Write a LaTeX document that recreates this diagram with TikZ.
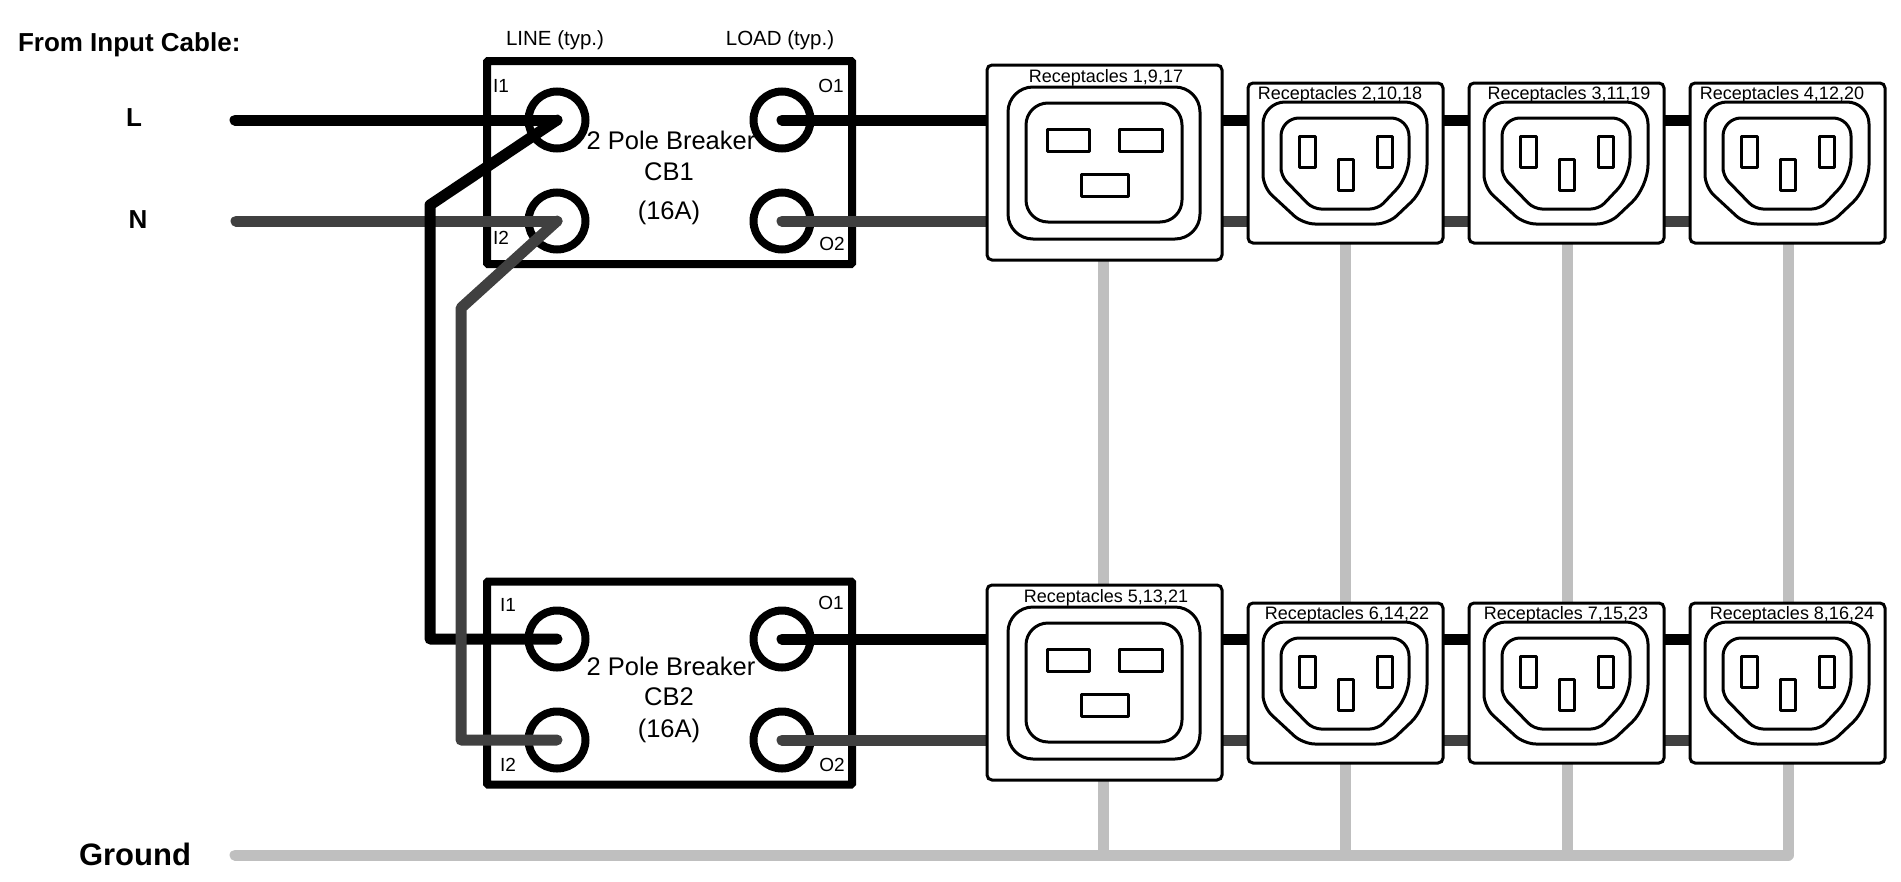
\documentclass[tikz,border=0pt]{standalone}
\usepackage{fontspec}
\setmainfont{Liberation Sans}
\usetikzlibrary{positioning}

\begin{document}
\begin{tikzpicture}[x=1pt, y=-1pt, inner sep=0pt, outer sep=0pt,
    breaker/.style={draw, line width=8, rounded corners=1, minimum width=365, minimum height=203},
    terminal/.style={draw, circle, line width=8, minimum size=57},
    phase/.style={line width=11, line cap=round, line join=round, black},
    neutral/.style={line width=11, line cap=round, line join=round, black!75},
    earth/.style={line width=11, line cap=round, line join=round, black!25},
    contour/.style={line width=3, line join=round},
    recbox/.style={draw, fill=white, line width=3, rounded corners=5},
    title/.style={font=\fontsize{26}{28}\selectfont\bfseries},
    breakertext/.style={font=\fontsize{25.5}{28}\selectfont},
    pintext/.style={font=\fontsize{19}{21}\selectfont},
    headtext/.style={font=\fontsize{20.5}{23}\selectfont},
    rectext/.style={font=\fontsize{18}{20}\selectfont},
    plugbig/.pic={
        \node[recbox, minimum width=235, minimum height=195] (-box) at (0, 0) {};
        \draw[contour, rounded corners=25] (-96.5, -75.5) rectangle (95.5, 76.5);
        \draw[contour, rounded corners=22] (-78.5, -59.5) rectangle (77.5, 59.5);
        \draw[contour] (-57.5, -33.5) rectangle (-15.5, -11.5);
        \draw[contour] (14.5, -33.5) rectangle (57.5, -11.5);
        \draw[contour] (-23.5, 11.5) rectangle (23.5, 33.5);
    },
    plugsmall/.pic={
        \node[recbox, minimum width=195, minimum height=160] (-box) at (0, 0) {};
        \draw[contour, rounded corners=22] (-82.5, 0) -- (-82.5, -61) -- (81.5, -61)
            -- (81.5, 24) [rounded corners=12] -- (42.5, 61) -- (-42.5, 61) -- (-82.5, 24) -- cycle;
        \draw[contour, rounded corners=18] (-64.5, 0) -- (-64.5, -45) -- (63.5, -45)
            -- (63.5, 13) [rounded corners=8] -- (32.5, 46) -- (-32.5, 46) -- (-64.5, 13) -- cycle;
        \draw[contour] (-46.5, -27) rectangle (-30.5, 4);
        \draw[contour] (31.5, -27) rectangle (46.5, 4);
        \draw[contour] (-7.5, -4) rectangle (7.5, 27);
    }]

% Fix the page
\useasboundingbox (0, 0) rectangle (1901, 881);

% Input labels
\node[title, anchor=west] (frominput) at (18, 45) {From Input Cable:};
\node[title] (linename) at (134, 118) {L};
\node[title] (neutralname) at (138, 220) {N};
\node[font=\fontsize{31}{33}\selectfont\bfseries] (groundname) at (135, 854) {Ground};
\node[headtext] (linehead) at (555, 40) {LINE (typ.)};
\node[headtext] (loadhead) at (780, 40) {LOAD (typ.)};

% Breaker CB1
\node[breaker] (cb1) at (669.5, 162.5) {};
\node[terminal] (cb1i1) at (557, 120) {};
\node[terminal] (cb1i2) at (557, 221) {};
\node[terminal] (cb1o1) at (782, 120) {};
\node[terminal] (cb1o2) at (782, 221) {};
\node[pintext] (cb1i1name) at (501, 86) {I1};
\node[pintext] (cb1i2name) at (501, 238) {I2};
\node[pintext] (cb1o1name) at (831, 86) {O1};
\node[pintext] (cb1o2name) at (832, 244) {O2};
\node[breakertext] (cb1title) at (671, 140) {2 Pole Breaker};
\node[breakertext] (cb1name) at (669, 172) {CB1};
\node[breakertext] (cb1rating) at (669, 213) {(16A)};

% Breaker CB2
\node[breaker] (cb2) at (669.5, 683) {};
\node[terminal] (cb2i1) at (557, 639) {};
\node[terminal] (cb2i2) at (557, 740) {};
\node[terminal] (cb2o1) at (782, 639) {};
\node[terminal] (cb2o2) at (782, 740) {};
\node[pintext] (cb2i1name) at (508, 605) {I1};
\node[pintext] (cb2i2name) at (508, 765) {I2};
\node[pintext] (cb2o1name) at (831, 603) {O1};
\node[pintext] (cb2o2name) at (832, 765) {O2};
\node[breakertext] (cb2title) at (671, 666) {2 Pole Breaker};
\node[breakertext] (cb2name) at (669, 697) {CB2};
\node[breakertext] (cb2rating) at (669, 731) {(16A)};

% Free ends and bends of the wires
\coordinate (linein) at (235, 120);
\coordinate (neutralin) at (236, 221);
\coordinate (groundin) at (235, 855);
\coordinate (linebend) at (430, 205);
\coordinate (linefoot) at (430, 639);
\coordinate (neutralbend) at (461, 308);
\coordinate (neutralfoot) at (461, 740);
\coordinate (rowaline) at (1700, 120);
\coordinate (rowaneutral) at (1700, 221);
\coordinate (rowbline) at (1700, 639);
\coordinate (rowbneutral) at (1700, 740);
\coordinate (groundb) at (1103, 855);
\coordinate (groundc) at (1345, 855);
\coordinate (groundd) at (1567, 855);
\coordinate (grounde) at (1788, 855);
\coordinate (riserb) at (1103, 250);
\coordinate (riserc) at (1345, 235);
\coordinate (riserd) at (1567, 235);
\coordinate (risere) at (1788, 235);

% Ground
\draw[earth] (groundb) -- (riserb);
\draw[earth] (groundc) -- (riserc);
\draw[earth] (groundd) -- (riserd);
\draw[earth] (groundin) -- (grounde) -- (risere);

% Neutral
\draw[neutral] (neutralin) -- (cb1i2.center);
\draw[neutral] (cb1o2.center) -- (rowaneutral);
\draw[neutral] (cb2o2.center) -- (rowbneutral);

% Line
\draw[phase] (linein) -- (cb1i1.center);
\draw[phase] (cb1i1.center) -- (linebend) -- (linefoot) -- (cb2i1.center);
\draw[phase] (cb1o1.center) -- (rowaline);
\draw[phase] (cb2o1.center) -- (rowbline);

% Neutral jumper
\draw[neutral] (cb1i2.center) -- (neutralbend) -- (neutralfoot) -- (cb2i2.center);

% Receptacles
\pic (rec1) at (1104.5, 162.5) {plugbig};
\pic (rec2) at (1345.5, 163) {plugsmall};
\pic (rec3) at (1566.5, 163) {plugsmall};
\pic (rec4) at (1787.5, 163) {plugsmall};
\pic (rec5) at (1104.5, 682.5) {plugbig};
\pic (rec6) at (1345.5, 683) {plugsmall};
\pic (rec7) at (1566.5, 683) {plugsmall};
\pic (rec8) at (1787.5, 683) {plugsmall};

% Receptacle numbers
\node[rectext] (rec1name) at (1106, 78) {Receptacles 1,9,17};
\node[rectext] (rec2name) at (1340, 95) {Receptacles 2,10,18};
\node[rectext] (rec3name) at (1569, 95) {Receptacles 3,11,19};
\node[rectext] (rec4name) at (1782, 95) {Receptacles 4,12,20};
\node[rectext] (rec5name) at (1106, 598) {Receptacles 5,13,21};
\node[rectext] (rec6name) at (1347, 615) {Receptacles 6,14,22};
\node[rectext] (rec7name) at (1566, 615) {Receptacles 7,15,23};
\node[rectext] (rec8name) at (1792, 615) {Receptacles 8,16,24};

\end{tikzpicture}
\end{document}
